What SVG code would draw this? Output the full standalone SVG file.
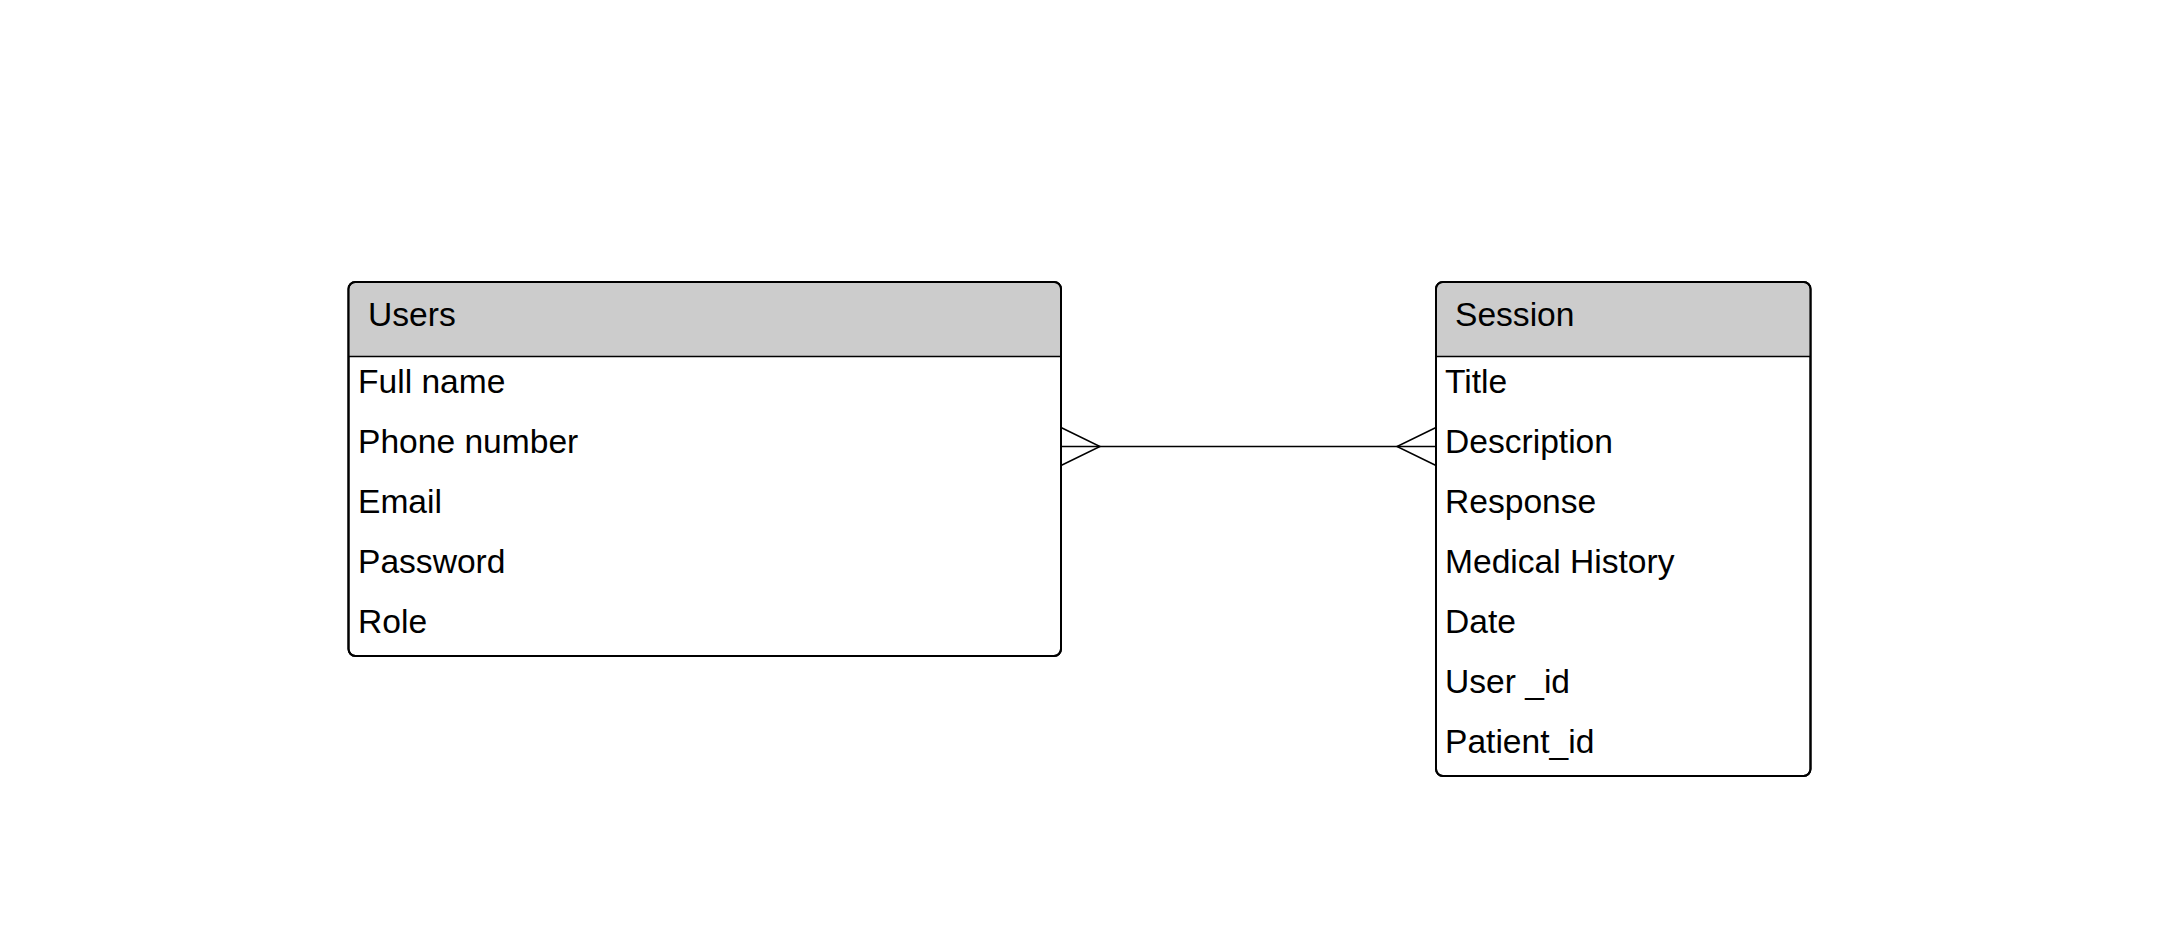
<svg xmlns="http://www.w3.org/2000/svg" width="2183" height="949" viewBox="0 0 2183 949">
<style>
.box{fill:#fff;stroke:#000;stroke-width:2}
.hdr{fill:#cccccc}
.sep{stroke:#000;stroke-width:1.5}
.t{font-family:"Liberation Sans",Arial,sans-serif;font-size:33.6px;fill:#000}
.c{fill:none;stroke:#000;stroke-width:1.5}
</style>
<rect width="2183" height="949" fill="#fff"/>
<g id="users">
<rect class="box" x="348.5" y="282" width="712.5" height="374" rx="7"/>
<path class="hdr" d="M349.5 356 V289 a6 6 0 0 1 6 -6 H1054 a6 6 0 0 1 6 6 V356 Z"/>
<rect x="348.5" y="282" width="712.5" height="374" rx="7" fill="none" stroke="#000" stroke-width="2"/>
<line class="sep" x1="348.5" y1="356.5" x2="1061" y2="356.5"/>
<text class="t" x="368" y="326">Users</text>
<text class="t" x="358" y="393">Full name</text>
<text class="t" x="358" y="453">Phone number</text>
<text class="t" x="358" y="513">Email</text>
<text class="t" x="358" y="573">Password</text>
<text class="t" x="358" y="633">Role</text>
</g>
<g id="session">
<rect class="box" x="1436" y="282" width="374.5" height="494" rx="7"/>
<path class="hdr" d="M1437 356 V289 a6 6 0 0 1 6 -6 H1803.5 a6 6 0 0 1 6 6 V356 Z"/>
<rect x="1436" y="282" width="374.5" height="494" rx="7" fill="none" stroke="#000" stroke-width="2"/>
<line class="sep" x1="1436" y1="356.5" x2="1810.5" y2="356.5"/>
<text class="t" x="1455" y="326">Session</text>
<text class="t" x="1445" y="393">Title</text>
<text class="t" x="1445" y="453">Description</text>
<text class="t" x="1445" y="513">Response</text>
<text class="t" x="1445" y="573">Medical History</text>
<text class="t" x="1445" y="633">Date</text>
<text class="t" x="1445" y="693">User _id</text>
<text class="t" x="1445" y="753">Patient_id</text>
</g>
<g id="connectors">
<line class="c" x1="1061" y1="446.5" x2="1436" y2="446.5"/>
<polyline class="c" points="1061,427.5 1100,446.5 1061,465.5"/>
<polyline class="c" points="1436,427.5 1397,446.5 1436,465.5"/>
</g>
</svg>
